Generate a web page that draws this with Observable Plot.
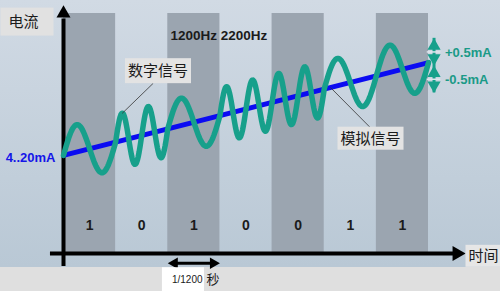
<!DOCTYPE html>
<html>
<head>
<meta charset="utf-8">
<script src="https://cdn.jsdelivr.net/npm/d3@7"></script>
<script src="https://cdn.jsdelivr.net/npm/@observablehq/plot@0.6"></script>
<style>
  html, body { margin: 0; padding: 0; background: #dfdfdf; }
  svg { display: block; }
</style>
</head>
<body>
<script>
// HART-style FSK: a digital signal riding on the 4..20 mA loop current.
const bits = [1, 0, 1, 0, 0, 1, 1];
const cyclesPerBit = {1: 1, 0: 2};   // 1200 Hz = one cycle per bit, 2200 Hz ≈ two
const analogStart = 0;               // loop current at the first bit (relative mA)
const analogEnd = 1.7;               // loop current after the last bit
const amplitude = 0.5;               // ±0.5 mA modulation
const freqLabel = "1200Hz 2200Hz";
const ampLabels = ["+0.5mA", "-0.5mA"];
const bitTimeLabel = "1/1200";

const bitRows = bits.map((b, i) => ({i, b}));
const analog = t => analogStart + (analogEnd - analogStart) * t / bits.length;

// phase-continuous sine built bit by bit
const wave = [];
let phase = 0;
bits.forEach((b, i) => {
  const c = cyclesPerBit[b], n = 60;
  for (let k = i === 0 ? 0 : 1; k <= n; ++k) {
    const f = k / n, t = i + f;
    wave.push({t, v: analog(t) + amplitude * Math.sin(2 * Math.PI * (phase + c * f))});
  }
  phase += c;
});
const waveAt = t => wave.reduce((a, d) => Math.abs(d.t - t) < Math.abs(a.t - t) ? d : a).v;

const yMin = -1.8, yMax = 2.6;
const ink = "#1b1b1b", teal = "#17a08b", blue = "#0b0bf2";
const arrowX = 7.106;
const ampTop = analogEnd + amplitude, ampBottom = analogEnd - amplitude;
const ampMid = [(ampTop + analogEnd) / 2, (ampBottom + analogEnd) / 2];
const font = "'Liberation Sans', 'Noto Sans CJK SC', sans-serif";

const chart = Plot.plot({
  width: 500,
  height: 291,
  marginLeft: 63,
  marginRight: 72,
  marginTop: 13,
  marginBottom: 38,
  x: {domain: [0, bits.length], axis: null},
  y: {domain: [yMin, yMax], axis: null},
  style: {
    background: "linear-gradient(to bottom, #d1dae4 0%, #b9c8d5 91.7%, #dfdfdf 91.7%, #dfdfdf 100%)",
    fontFamily: font,
    overflow: "visible"
  },
  marks: [
    // alternating bit cells
    Plot.rect(bitRows.filter(d => d.i % 2 === 0), {x1: "i", x2: d => d.i + 1, y1: yMin, y2: yMax, fill: "#9ba5b0"}),
    Plot.text(bitRows, {x: d => d.i + 0.5, y: -1.286, text: d => String(d.b), fontSize: 14, fontWeight: "bold", fill: ink}),

    // axes with arrow heads
    Plot.ruleX([0], {y1: -2.04, y2: 2.5, stroke: "black", strokeWidth: 4}),
    Plot.dot([0], {x: d => d, y: 2.602, symbol: "triangle", r: 5.2, fill: "black"}),
    Plot.ruleY([yMin], {x1: -0.25, x2: 7.55, stroke: "black", strokeWidth: 4}),
    Plot.dot([yMin], {x: 7.545, y: d => d, symbol: "triangle", rotate: 90, r: 5.6, fill: "black"}),

    // analog loop current and the modulated signal
    Plot.line([{t: 0, v: analogStart}, {t: bits.length, v: analogEnd}], {x: "t", y: "v", stroke: blue, strokeWidth: 5}),
    Plot.line(wave, {x: "t", y: "v", stroke: teal, strokeWidth: 5.5, strokeLinejoin: "round"}),

    // leader lines
    Plot.link([0], {x1: 1.72, y1: 1.32, x2: 1.125, y2: waveAt(1.125), stroke: "#333", strokeWidth: 0.8}),
    Plot.link([0], {x1: 5.88, y1: 0.512, x2: 5.12, y2: analog(5.12), stroke: "#333", strokeWidth: 0.8}),

    // ±0.5 mA double arrows
    Plot.ruleX([arrowX], {y1: ampTop, y2: ampBottom, dy: 3, stroke: teal, strokeWidth: 3}),
    Plot.dot([ampTop], {x: arrowX, y: d => d, dy: 10.5, symbol: "triangle", r: 4.9, fill: teal}),
    Plot.dot([analogEnd], {x: arrowX, y: d => d, dy: -4.5, symbol: "triangle", rotate: 180, r: 4.9, fill: teal}),
    Plot.dot([analogEnd], {x: arrowX, y: d => d, dy: 10.5, symbol: "triangle", r: 4.9, fill: teal}),
    Plot.dot([ampBottom], {x: arrowX, y: d => d, dy: -4.5, symbol: "triangle", rotate: 180, r: 4.9, fill: teal}),
    Plot.ruleY(ampMid, {x1: arrowX - 0.13, x2: arrowX + 0.13, dy: 3, stroke: "#dfe6ee", strokeWidth: 1.5}),
    Plot.text(ampLabels, {x: arrowX, y: (d, i) => ampMid[i], dx: 11, dy: 4, text: d => d, textAnchor: "start", fontSize: 13, fontWeight: "bold", fill: "#1a9a87"}),

    // one bit period
    Plot.ruleY([-1.978], {x1: 2.1, x2: 2.9, stroke: "black", strokeWidth: 3}),
    Plot.dot([2.128], {x: d => d, y: -1.978, symbol: "triangle", rotate: -90, r: 4.3, fill: "black"}),
    Plot.dot([2.872], {x: d => d, y: -1.978, symbol: "triangle", rotate: 90, r: 4.3, fill: "black"}),

    // labels
    Plot.text([freqLabel], {x: 2.052, y: 2.2, text: d => d, textAnchor: "start", fontSize: 13.5, fontWeight: "bold", fill: ink}),
    Plot.text(["4..20mA"], {x: 0, y: analogStart, dx: -8, dy: 3, text: d => d, textAnchor: "end", fontSize: 13, fontWeight: "bold", fill: "#1515e8"}),
    Plot.text(["电流"], {x: -1.055, y: 2.439, text: d => d, textAnchor: "start", fontSize: 15, fill: ink}),
    Plot.text(["数字信号"], {x: 1.812, y: 1.539, text: d => d, fontSize: 15, fill: ink}),
    Plot.text(["模拟信号"], {x: 5.888, y: 0.301, text: d => d, fontSize: 15, fill: ink}),
    Plot.text(["时间"], {x: 7.767, y: -1.855, text: d => d, textAnchor: "start", fontSize: 15, fill: ink}),
    Plot.text([bitTimeLabel], {x: 2.666, y: -2.277, text: d => d, textAnchor: "end", fontSize: 10, fill: ink}),
    Plot.text(["秒"], {x: 2.743, y: -2.277, text: d => d, textAnchor: "start", fontSize: 13, fill: ink})
  ]
});

document.body.append(chart);

// light panels behind the annotation labels
const boxStyle = {
  "电流": {fill: "#e1e1e1", l: 8, r: 15, h: 28},
  "数字信号": {fill: "#e3e3e3", l: 3, r: 3, h: 25},
  "模拟信号": {fill: "#e3e3e3", l: 3, r: 3, h: 23},
  "时间": {fill: "#e6e6e6", l: 3, r: 6, h: 22},
  [bitTimeLabel]: {fill: "#ffffff", l: 10, r: 1, h: 24}
};
chart.querySelectorAll("text").forEach(el => {
  const s = boxStyle[el.textContent];
  if (!s) return;
  const b = el.getBBox();
  const cy = b.y + b.height / 2;
  const rect = document.createElementNS("http://www.w3.org/2000/svg", "rect");
  rect.setAttribute("x", b.x - s.l);
  rect.setAttribute("y", cy - s.h / 2);
  rect.setAttribute("width", b.width + s.l + s.r);
  rect.setAttribute("height", s.h);
  rect.setAttribute("fill", s.fill);
  const tr = el.getAttribute("transform");
  if (tr) rect.setAttribute("transform", tr);
  el.parentNode.insertBefore(rect, el);
});
</script>
</body>
</html>
